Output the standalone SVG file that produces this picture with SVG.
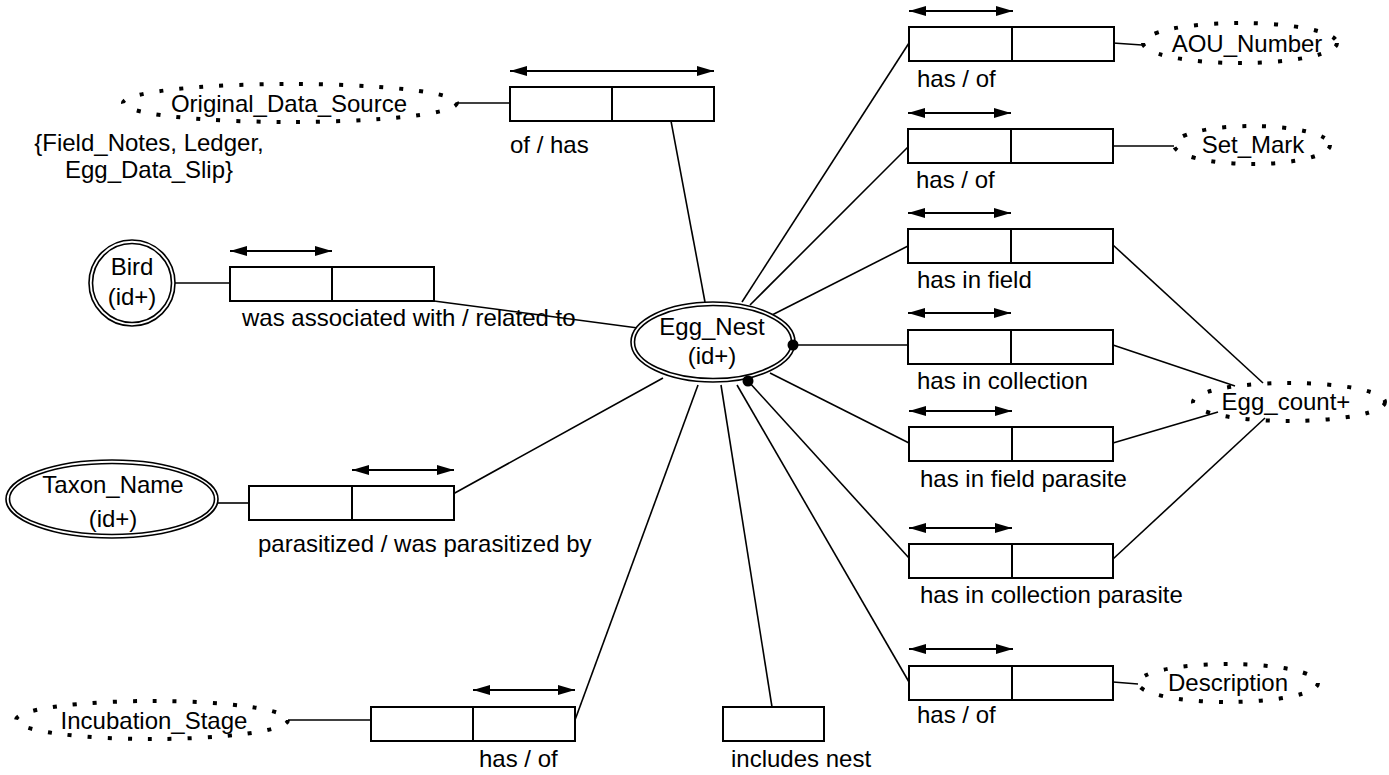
<svg xmlns="http://www.w3.org/2000/svg" width="1389" height="775" viewBox="0 0 1389 775">
<defs>
<marker id="ah" viewBox="0 0 17 10" refX="17" refY="5" markerWidth="17" markerHeight="10" markerUnits="userSpaceOnUse" orient="auto-start-reverse">
<path d="M0,0 L17,5 L0,10 Z" fill="#000"/>
</marker>
</defs>
<style>
text{font-family:"Liberation Sans",Arial,sans-serif;font-size:24px;fill:#000}
.c{text-anchor:middle}
.ln{stroke:#000;stroke-width:1.6;fill:none}
.box{fill:#fff;stroke:#000;stroke-width:2}
.arr{stroke:#000;stroke-width:2;fill:none;marker-start:url(#ah);marker-end:url(#ah)}
.dot{fill:none;stroke:#000;stroke-width:4;stroke-dasharray:4 16}
.dbl{fill:#fff;stroke:#000;stroke-width:1.6}
</style>
<rect width="1389" height="775" fill="#fff"/>
<g id="connectors">
<line class="ln" x1="457" y1="103" x2="510" y2="103"/>
<line class="ln" x1="671" y1="121" x2="705" y2="302"/>
<line class="ln" x1="175" y1="283" x2="230" y2="283"/>
<line class="ln" x1="434" y1="301" x2="638" y2="328"/>
<line class="ln" x1="218" y1="503" x2="249" y2="503"/>
<line class="ln" x1="453" y1="494" x2="663" y2="378"/>
<line class="ln" x1="288" y1="720" x2="371" y2="720"/>
<line class="ln" x1="575" y1="720" x2="698" y2="385"/>
<line class="ln" x1="772" y1="707" x2="721" y2="385"/>
<line class="ln" x1="742" y1="302" x2="909" y2="43"/>
<line class="ln" x1="750" y1="305" x2="908" y2="147"/>
<line class="ln" x1="772" y1="315" x2="908" y2="246"/>
<line class="ln" x1="793" y1="345" x2="908" y2="345"/>
<line class="ln" x1="770" y1="373" x2="909" y2="443"/>
<line class="ln" x1="748" y1="381" x2="909" y2="558"/>
<line class="ln" x1="737" y1="385" x2="909" y2="682"/>
<line class="ln" x1="1113" y1="43" x2="1142" y2="45"/>
<line class="ln" x1="1112" y1="146" x2="1174" y2="146"/>
<line class="ln" x1="1113" y1="245" x2="1263" y2="383"/>
<line class="ln" x1="1113" y1="345" x2="1235" y2="386"/>
<line class="ln" x1="1113" y1="443" x2="1218" y2="412"/>
<line class="ln" x1="1113" y1="559" x2="1265" y2="418"/>
<line class="ln" x1="1113" y1="682" x2="1138" y2="684"/>
</g>
<g id="egg_nest">
<ellipse class="dbl" cx="713" cy="342" rx="82" ry="40"/>
<ellipse class="dbl" cx="713" cy="342" rx="78.5" ry="36.5"/>
<text class="c" x="712" y="335">Egg_Nest</text>
<text class="c" x="712" y="364">(id+)</text>
<circle cx="793" cy="345" r="5.5" fill="#000"/>
<circle cx="748" cy="381" r="5.5" fill="#000"/>
</g>
<g id="original_data_source">
<ellipse class="dot" cx="290" cy="103" rx="167" ry="19"/>
<text class="c" x="289" y="112">Original_Data_Source</text>
<text class="c" x="149" y="151">{Field_Notes, Ledger,</text>
<text class="c" x="149" y="178">Egg_Data_Slip}</text>
</g>
<g id="rel_of_has">
<rect class="box" x="510" y="87" width="102" height="34"/>
<rect class="box" x="612" y="87" width="102" height="34"/>
<line class="arr" x1="510" y1="71" x2="714" y2="71"/>
<text x="510" y="153">of / has</text>
</g>
<g id="bird">
<circle class="dbl" cx="132" cy="283" r="43"/>
<circle class="dbl" cx="132" cy="283" r="39.5"/>
<text class="c" x="132" y="275">Bird</text>
<text class="c" x="132" y="305">(id+)</text>
</g>
<g id="rel_associated">
<rect class="box" x="230" y="267" width="102" height="34"/>
<rect class="box" x="332" y="267" width="102" height="34"/>
<line class="arr" x1="230" y1="251" x2="332" y2="251"/>
<text x="242" y="326">was associated with / related to</text>
</g>
<g id="taxon_name">
<ellipse class="dbl" cx="112" cy="499" rx="106" ry="39"/>
<ellipse class="dbl" cx="112" cy="499" rx="102.5" ry="35.5"/>
<text class="c" x="113" y="493">Taxon_Name</text>
<text class="c" x="113" y="527">(id+)</text>
</g>
<g id="rel_parasitized">
<rect class="box" x="249" y="486" width="103" height="34"/>
<rect class="box" x="352" y="486" width="102" height="34"/>
<line class="arr" x1="352" y1="470" x2="454" y2="470"/>
<text x="258" y="552">parasitized / was parasitized by</text>
</g>
<g id="incubation_stage">
<ellipse class="dot" cx="152" cy="720" rx="136" ry="19"/>
<text class="c" x="154" y="729">Incubation_Stage</text>
</g>
<g id="rel_incubation">
<rect class="box" x="371" y="707" width="102" height="34"/>
<rect class="box" x="473" y="707" width="102" height="34"/>
<line class="arr" x1="473" y1="690" x2="575" y2="690"/>
<text x="479" y="767">has / of</text>
</g>
<g id="rel_includes_nest">
<rect class="box" x="723" y="707" width="101" height="34"/>
<text x="731" y="767">includes nest</text>
</g>
<g id="rel_aou">
<rect class="box" x="909" y="27" width="103" height="34"/>
<rect class="box" x="1012" y="27" width="102" height="34"/>
<line class="arr" x1="909" y1="11" x2="1013" y2="11"/>
<text x="917" y="87">has / of</text>
</g>
<g id="aou_number">
<ellipse class="dot" cx="1240" cy="43" rx="97" ry="20"/>
<text class="c" x="1247" y="52">AOU_Number</text>
</g>
<g id="rel_set_mark">
<rect class="box" x="908" y="129" width="103" height="34"/>
<rect class="box" x="1011" y="129" width="102" height="34"/>
<line class="arr" x1="908" y1="113" x2="1011" y2="113"/>
<text x="916" y="188">has / of</text>
</g>
<g id="set_mark">
<ellipse class="dot" cx="1252" cy="145" rx="78" ry="19"/>
<text class="c" x="1253" y="153">Set_Mark</text>
</g>
<g id="rel_has_in_field">
<rect class="box" x="908" y="229" width="103" height="34"/>
<rect class="box" x="1011" y="229" width="102" height="34"/>
<line class="arr" x1="908" y1="213" x2="1011" y2="213"/>
<text x="917" y="288">has in field</text>
</g>
<g id="rel_has_in_collection">
<rect class="box" x="908" y="330" width="103" height="34"/>
<rect class="box" x="1011" y="330" width="102" height="34"/>
<line class="arr" x1="908" y1="313" x2="1011" y2="313"/>
<text x="917" y="389">has in collection</text>
</g>
<g id="rel_has_in_field_parasite">
<rect class="box" x="909" y="427" width="103" height="34"/>
<rect class="box" x="1012" y="427" width="101" height="34"/>
<line class="arr" x1="909" y1="411" x2="1012" y2="411"/>
<text x="920" y="487">has in field parasite</text>
</g>
<g id="rel_has_in_collection_parasite">
<rect class="box" x="909" y="544" width="103" height="34"/>
<rect class="box" x="1012" y="544" width="101" height="34"/>
<line class="arr" x1="909" y1="528" x2="1012" y2="528"/>
<text x="920" y="603">has in collection parasite</text>
</g>
<g id="egg_count">
<ellipse class="dot" cx="1289" cy="402" rx="96" ry="19"/>
<text class="c" x="1286" y="410">Egg_count+</text>
</g>
<g id="rel_description">
<rect class="box" x="909" y="666" width="103" height="34"/>
<rect class="box" x="1012" y="666" width="101" height="34"/>
<line class="arr" x1="909" y1="649" x2="1013" y2="649"/>
<text x="917" y="723">has / of</text>
</g>
<g id="description">
<ellipse class="dot" cx="1228" cy="683" rx="90" ry="19"/>
<text class="c" x="1228" y="691">Description</text>
</g>
</svg>
